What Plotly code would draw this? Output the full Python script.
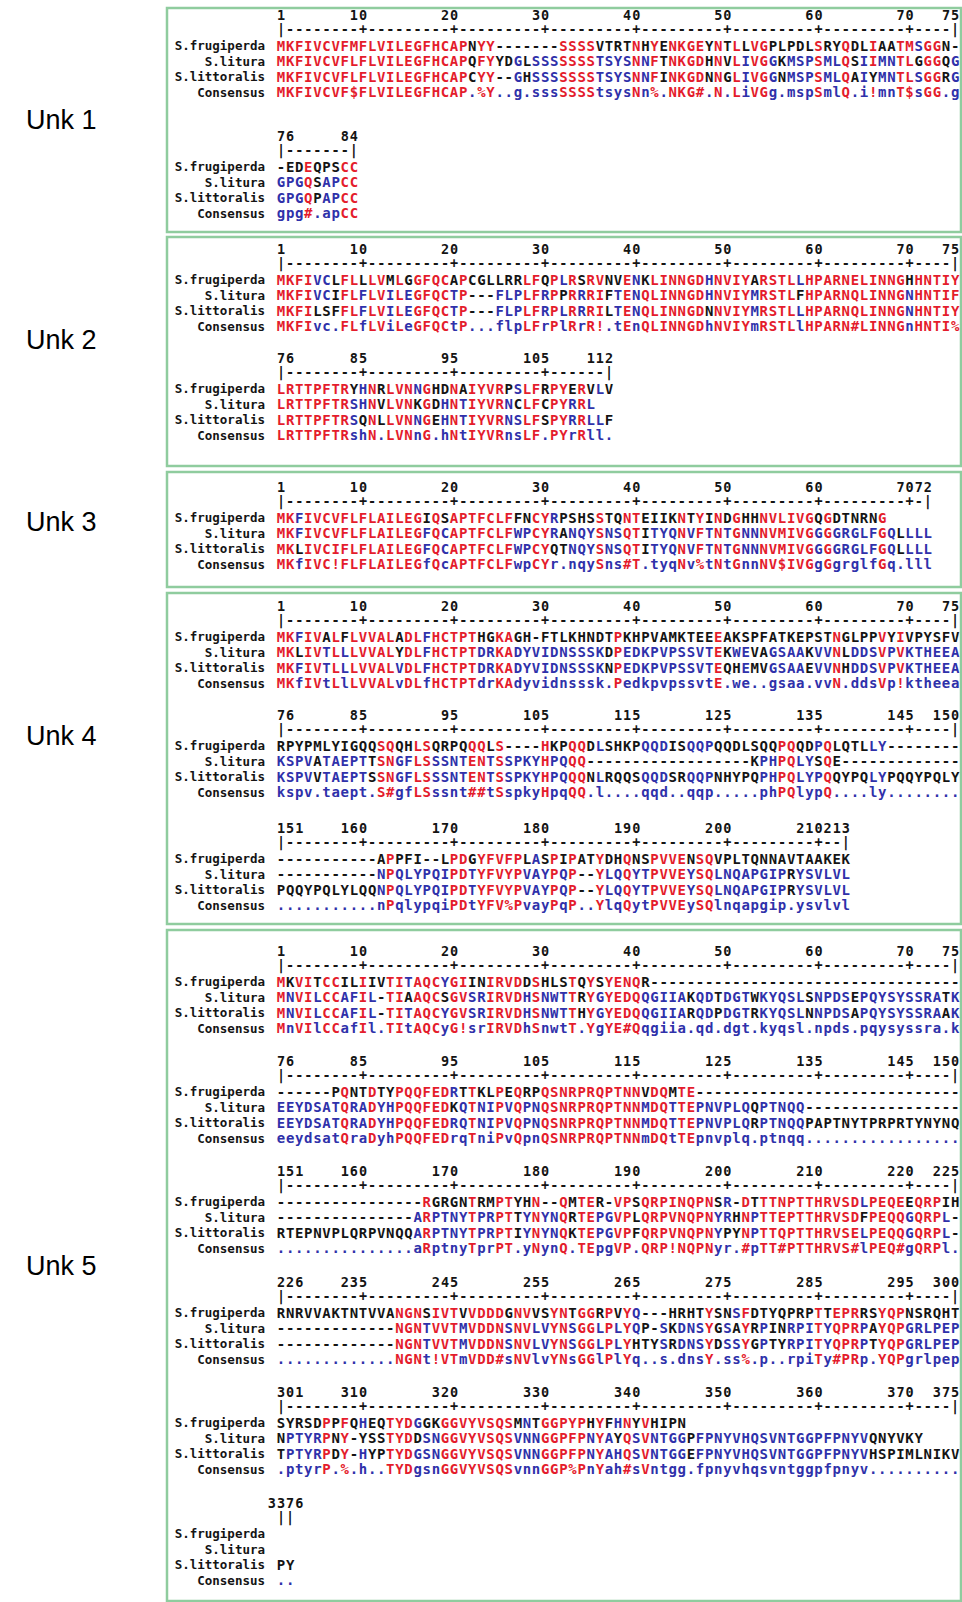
import plotly.graph_objects as go

# ---------------- data ----------------
NAMES = ["S.frugiperda", "S.litura", "S.littoralis", "Consensus"]
PANEL_LABELS = ["Unk 1", "Unk 2", "Unk 3", "Unk 4", "Unk 5"]

unk1_blocks = [(1, 75), (76, 84)]
unk1_frugiperda = ["MKFIVCVFMFLVILEGFHCAPNYY-------SSSSVTRTNHYENKGEYNTLLVGPLPDLSRYQDLIAATMSGGN-",
                   "-EDEQPSCC"]
unk1_litura = ["MKFIVCVFLFLVILEGFHCAPQFYYDGLSSSSSSSTSYSNNFTNKGDHNVLIVGGKMSPSMLQSIIMNTLGGGQG",
               "GPGQSAPCC"]
unk1_littoralis = ["MKFIVCVFLFLVILEGFHCAPCYY--GHSSSSSSSTSYSNNFINKGDNNGLIVGGNMSPSMLQAIYMNTLSGGRG",
                   "GPGQPAPCC"]
unk1_consensus = ["MKFIVCVF$FLVILEGFHCAP.%Y..g.sssSSSStsysNn%.NKG#.N.LiVGg.mspSmlQ.i!mnT$sGG.g",
                  "gpg#.apCC"]

unk2_blocks = [(1, 75), (76, 112)]
unk2_frugiperda = ["MKFIVCLFLLLVMLGGFQCAPCGLLRRLFQPLRSRVNVENKLINNGDHNVIYARSTLLHPARNELINNGHHNTIY",
                   "LRTTPFTRYHNRLVNNGHDNAIYVRPSLFRPYERVLV"]
unk2_litura = ["MKFIVCIFLFLVILEGFQCTP---FLPLFRPPRRRIFTENQLINNGDHNVIYMRSTLFHPARNQLINNGNHNTIF",
               "LRTTPFTRSHNVLVNKGDHNTIYVRNCLFCPYRRL"]
unk2_littoralis = ["MKFILSFFLFLVILEGFQCTP---FLPLFRPLRRRILTENQLINNGDNNVIYMRSTLLHPARNQLINNGNHNTIY",
                   "LRTTPFTRSQNLLVNNGEHNTIYVRNSLFSPYRRLLF"]
unk2_consensus = ["MKFIvc.FLfLViLeGFQCtP...flpLFrPlRrR!.tEnQLINNGDhNVIYmRSTLlHPARN#LINNGnHNTI%",
                  "LRTTPFTRshN.LVNnG.hNtIYVRnsLF.PYrRll."]

unk3_blocks = [(1, 72)]
unk3_frugiperda = ["MKFIVCVFLFLAILEGIQSAPTFCLFFNCYRPSHSSTQNTEIIKNTYINDGHHNVLIVGQGDTNRNG"]
unk3_litura = ["MKFIVCVFLFLAILEGFQCAPTFCLFWPCYRANQYSNSQTITYQNVFTNTGNNNVMIVGGGGRGLFGQLLLL"]
unk3_littoralis = ["MKLIVCIFLFLAILEGFQCAPTFCLFWPCYQTNQYSNSQTITYQNVFTNTGNNNVMIVGGGGRGLFGQLLLL"]
unk3_consensus = ["MKfIVC!FLFLAILEGfQcAPTFCLFwpCYr.nqySns#T.tyqNv%tNtGnnNV$IVGgGgrglfGq.lll"]

unk4_blocks = [(1, 75), (76, 150), (151, 213)]
unk4_frugiperda = ["MKFIVALFLVVALADLFHCTPTHGKAGH-FTLKHNDTPKHPVAMKTEEEAKSPFATKEPSTNGLPPVYIVPYSFV",
                   "RPYPMLYIGQQSQQHLSQRPQQQLS----HKPQQDLSHKPQQDISQQPQQDLSQQPQQDPQLQTLLY--------",
                   "-----------APPFI--LPDGYFVFPLASPIPATYDHQNSPVVENSQVPLTQNNAVTAAKEK"]
unk4_litura = ["MKLIVTLLLVVALYDLFHCTPTDRKADYVIDNSSSKDPEDKPVPSSVTEKWEVAGSAAKVVNLDDSVPVKTHEEA",
               "KSPVATAEPTTSNGFLSSSNTENTSSPKYHPQQQ------------------KPHPQLYSQE-------------",
               "-----------NPQLYPQIPDTYFVYPVAYPQP--YLQQYTPVVEYSQLNQAPGIPRYSVLVL"]
unk4_littoralis = ["MKFIVTLLLVVALVDLFHCTPTDRKADYVIDNSSSKNPEDKPVPSSVTEQHEMVGSAAEVVNHDDSVPVKTHEEA",
                   "KSPVVTAEPTSSNGFLSSSNTENTSSPKYHPQQQNLRQQSQQDSRQQPNHYPQPHPQLYPQQYPQLYPQQYPQLY",
                   "PQQYPQLYLQQNPQLYPQIPDTYFVYPVAYPQP--YLQQYTPVVEYSQLNQAPGIPRYSVLVL"]
unk4_consensus = ["MKfIVtLlLVVALvDLfHCTPTdrKAdyvidnsssk.PedkpvpssvtE.we..gsaa.vvN.ddsVp!ktheea",
                  "kspv.taept.S#gfLSssnt##tSspkyHpqQQ.l....qqd..qqp.....phPQlypQ....ly........",
                  "...........nPqlypqiPDtYFV%PvayPqP..YlqQytPVVEySQlnqapgip.ysvlvl"]

unk5_blocks = [(1, 75), (76, 150), (151, 225), (226, 300), (301, 375), (376, 377)]
unk5_frugiperda = ["MKVITCCILIIVTITAQCYGIINIRVDDSHLSTQYSYENQR----------------------------------",
                   "------PQNTDTYPQQFEDRTTKLPEQRPQSNRPRQPTNNVDQMTE-----------------------------",
                   "----------------RGRGNTRMPTYHN--QMTER-VPSQRPINQPNSR-DTTTNPTTHRVSDLPEQEEQRPIH",
                   "RNRVVAKTNTVVANGNSIVTVVDDDGNVVSYNTGGRPVYQ---HRHTYSNSFDTYQPRPTTEPRRSYQPNSRQHT",
                   "SYRSDPPFQHEQTYDGGKGGVYVSQSMNTGGPYPHYFHNYVHIPN",
                   ""]
unk5_litura = ["MNVILCCAFIL-TIAAQCSGVSRIRVDHSNWTTRYGYEDQQGIIAKQDTDGTWKYQSLSNPDSEPQYSYSSRATK",
               "EEYDSATQRADYHPQQFEDKQTNIPVQPNQSNRPRQPTNNMDQTTEPNVPLQQPTNQQ-----------------",
               "---------------ARPTNYTPRPTTYNYNQRTEPGVPLQRPVNQPNYRHNPTTEPTTHRVSDFPEQQGQRPL-",
               "-------------NGNTVVTMVDDNSNVLVYNSGGLPLYQP-SKDNSYGSAYRPINRPITYQPRPAYQPGRLPEP",
               "NPTYRPNY-YSSTYDDSNGGVYVSQSVNNGGPFPNYAYQSVNTGGPFPNYVHQSVNTGGPFPNYVQNYVKY",
               ""]
unk5_littoralis = ["MNVILCCAFIL-TITAQCYGVSRIRVDHSNWTTHYGYEDQQGIIARQDPDGTRKYQSLNNPDSAPQYSYSSRAAK",
                   "EEYDSATQRADYHPQQFEDRQTNIPVQPNQSNRPRQPTNNMDQTTEPNVPLQRPTNQQPAPTNYTPRPRTYNYNQ",
                   "RTEPNVPLQRPVNQQARPTNYTPRPTIYNYNQKTEPGVPFQRPVNQPNYPYNPTTQPTTHRVSELPEQQGQRPL-",
                   "-------------NGNTVVTMVDDNSNVLVYNSGGLPLYHTYSRDNSYDSSYGPTYRPITYQPRPTYQPGRLPEP",
                   "TPTYRPDY-HYPTYDGSNGGVYVSQSVNNGGPFPNYAHQSVNTGGEFPNYVHQSVNTGGPFPNYVHSPIMLNIKV",
                   "PY"]
unk5_consensus = ["MnVIlCCafIl.TItAQCyG!srIRVDhSnwtT.YgYE#Qqgiia.qd.dgt.kyqsl.npds.pqysyssra.k",
                  "eeydsatQraDyhPQQFEDrqTniPvQpnQSNRPRQPTNNmDQtTEpnvplq.ptnqq.................",
                  "...............aRptnyTprPT.yNynQ.TEpgVP.QRP!NQPNyr.#pTT#PTTHRVS#lPEQ#gQRPl.",
                  ".............NGNt!VTmVDD#sNVlvYNsGGlPlYq..s.dnsY.ss%.p..rpiTy#PRp.YQPgrlpep",
                  ".ptyrP.%.h..TYDgsnGGVYVSQSvnnGGP%PnYah#sVntgg.fpnyvhqsvntggpfpnyv..........",
                  ".."]

PANELS = [
    (unk1_blocks, [unk1_frugiperda, unk1_litura, unk1_littoralis, unk1_consensus]),
    (unk2_blocks, [unk2_frugiperda, unk2_litura, unk2_littoralis, unk2_consensus]),
    (unk3_blocks, [unk3_frugiperda, unk3_litura, unk3_littoralis, unk3_consensus]),
    (unk4_blocks, [unk4_frugiperda, unk4_litura, unk4_littoralis, unk4_consensus]),
    (unk5_blocks, [unk5_frugiperda, unk5_litura, unk5_littoralis, unk5_consensus]),
]

# ---------------- layout constants (page pixels) ----------------
W, H = 962, 1602
X0, DX = 281, 9.11          # x of first column, column pitch
NAME_X = 265                # right edge of sequence names
BOX_X0, BOX_X1 = 167, 961
PANEL_BOX = [(8, 232), (237, 466), (472, 587), (593, 924), (930, 1601)]
BLOCK_Y = [[17, 138], [251, 360], [489], [608, 717, 830],
           [953, 1063, 1173, 1284, 1394, 1505]]
ROW_DY = [0, 14, 30, 45.5, 61, 76.5]   # numbers, ruler, 4 sequence rows
LABEL_X = 61
LABEL_Y = [120, 340, 522, 736, 1266]

RED, BLUE, BLACK, GREEN = "#e41c2c", "#2f31aa", "#141414", "#8fcc9e"
GROUPS = {"!": "IV", "$": "LM", "%": "FY", "#": "NDQEBZ"}


def residue_color(ch, cons):
    if not ch.isalpha():
        return BLACK
    if cons.isupper() and ch == cons:
        return RED
    if cons.islower() and ch == cons.upper():
        return BLUE
    if cons in GROUPS and ch in GROUPS[cons]:
        return RED
    return BLACK


def consensus_color(c):
    if c.isupper() or c in GROUPS:
        return RED
    return BLUE


pts = {RED: ([], [], []), BLUE: ([], [], []), BLACK: ([], [], [])}
marks = ([], [], [])
names_x, names_y, names_t = [], [], []


def put(store, x, y, t):
    store[0].append(x)
    store[1].append(y)
    store[2].append(t)


for p, (blocks, rows) in enumerate(PANELS):
    for b, (start, end) in enumerate(blocks):
        y0 = BLOCK_Y[p][b]

        def colx(c):
            return X0 + (c - start) * DX

        # position numbers: ticks and end right-aligned, start left-aligned on top
        digits = {}
        ticks = list(range(start + 9, end, 10))
        for t in ticks + [end]:
            s = str(t)
            for k, d in enumerate(s):
                digits[t - len(s) + 1 + k] = d
        for k, d in enumerate(str(start)):
            digits[start + k] = d
        for c, d in digits.items():
            put(marks, colx(c), y0 + ROW_DY[0], d)

        # ruler
        for c in range(start, end + 1):
            ch = "|" if c in (start, end) else ("+" if c in ticks else "-")
            put(marks, colx(c), y0 + ROW_DY[1], ch)

        cons = rows[3][b]
        for r in range(4):
            seq = rows[r][b]
            yy = y0 + ROW_DY[r + 2]
            put((names_x, names_y, names_t), NAME_X, yy, NAMES[r])
            for i, ch in enumerate(seq):
                if r == 3:
                    col = consensus_color(ch)
                else:
                    col = residue_color(ch, cons[i] if i < len(cons) else ".")
                put(pts[col], colx(start + i), yy, ch)

fig = go.Figure()
for color, (xs, ys, ts) in pts.items():
    fig.add_trace(go.Scatter(
        x=xs, y=ys, text=ts, mode="text", hoverinfo="skip",
        textposition="middle center",
        textfont=dict(family="DejaVu Sans Mono", size=14, color=color, weight="bold"),
    ))
fig.add_trace(go.Scatter(
    x=marks[0], y=marks[1], text=marks[2], mode="text", hoverinfo="skip",
    textposition="middle center",
    textfont=dict(family="DejaVu Sans Mono", size=13.5, color=BLACK, weight="bold"),
))
fig.add_trace(go.Scatter(
    x=names_x, y=names_y, text=names_t, mode="text", hoverinfo="skip",
    textposition="middle left",
    textfont=dict(family="DejaVu Sans Mono", size=12.5, color=BLACK, weight="bold"),
))

for (top, bottom), label, ly in zip(PANEL_BOX, PANEL_LABELS, LABEL_Y):
    fig.add_shape(type="rect", x0=BOX_X0, x1=BOX_X1, y0=top, y1=bottom,
                  line=dict(color=GREEN, width=2.5), layer="below")
    fig.add_annotation(x=LABEL_X, y=ly, text=label, showarrow=False,
                       font=dict(family="Liberation Sans, Arial", size=27, color="black"))

fig.update_layout(
    width=W, height=H,
    margin=dict(l=0, r=0, t=0, b=0),
    paper_bgcolor="white", plot_bgcolor="white",
    showlegend=False,
    xaxis=dict(range=[0, W], visible=False, fixedrange=True),
    yaxis=dict(range=[H, 0], visible=False, fixedrange=True),
)

# page body has a default margin; drop it so the figure sits at the window's corner
fig.write_html("out.html",
               config={"displayModeBar": False},
               post_script="document.body.style.margin='0';document.body.style.overflow='hidden';")
